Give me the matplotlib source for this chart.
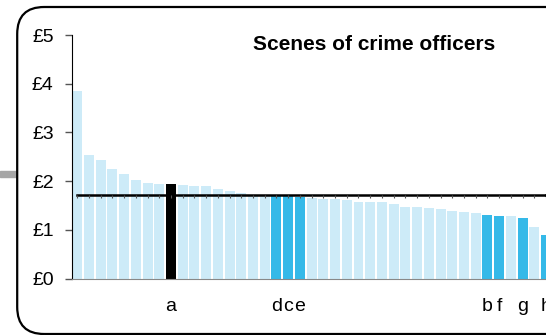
import matplotlib.pyplot as plt
from matplotlib.patches import FancyBboxPatch, Rectangle

plt.rcParams['font.family'] = ['Liberation Sans', 'DejaVu Sans']

# cost per head, forces sorted high to low (chart is cropped on the right)
costs = [3.86, 2.54, 2.43, 2.25, 2.15, 2.02, 1.96, 1.94, 1.94, 1.92,
         1.90, 1.90, 1.84, 1.80, 1.76, 1.72, 1.71, 1.70, 1.70, 1.68,
         1.65, 1.63, 1.63, 1.61, 1.57, 1.57, 1.57, 1.53, 1.47, 1.47,
         1.45, 1.43, 1.39, 1.37, 1.35, 1.30, 1.28, 1.28, 1.24, 1.06,
         0.89]
labels = [''] * len(costs)
labels[8] = 'a'
labels[17] = 'd'
labels[18] = 'c'
labels[19] = 'e'
labels[35] = 'b'
labels[36] = 'f'
labels[38] = 'g'
labels[40] = 'h'
own_force = 'a'
average = 1.71

light = '#cdebf8'
mid = '#35b9e8'
colors = []
for lab in labels:
    if lab == own_force:
        colors.append('black')
    elif lab:
        colors.append(mid)
    else:
        colors.append(light)

fig = plt.figure(figsize=(5.46, 3.35), dpi=100)

# rounded frame (in inches) and grey connector bar on the left
fig.patches.append(Rectangle((0, 1 - 176.5 / 335), 16 / 546, 6 / 335,
                             transform=fig.transFigure, color='#a6a6a6'))
fig.patches.append(FancyBboxPatch((0.172, 0.01), 6.0, 3.27,
                                  boxstyle='round,pad=0,rounding_size=0.27',
                                  transform=fig.dpi_scale_trans, fill=False,
                                  lw=1.6, ec='black'))

ax = fig.add_axes([71.7 / 546, 56.5 / 335, 1 - 71.7 / 546, 243.5 / 335])
x = range(len(costs))
ax.bar(x, costs, width=0.85, color=colors, zorder=2)
ax.plot(x, [average] * len(costs), color='black', lw=1.8, zorder=3)
ax.plot(x, [average] * len(costs), ls='none', marker=3, ms=2, mew=0.8,
        color='#555555', zorder=3)
ax.plot([len(costs) - 1, len(costs) + 5], [average, average], color='black', lw=1.8, zorder=3)

ax.set_xlim(-0.47, 39.65)
ax.set_ylim(0, 5)
ax.set_yticks(range(6))
ax.set_yticklabels(['£' + str(v) for v in range(6)], fontsize=14)
ax.set_xticks(list(x))
ax.set_xticklabels(labels, fontsize=14)
ax.tick_params(axis='x', length=0, pad=14)
ax.tick_params(axis='y', length=5, width=1, color='#555555', pad=8)
ax.spines['top'].set_visible(False)
ax.spines['right'].set_visible(False)
ax.spines['bottom'].set_color('#888888')
ax.spines['left'].set_color('black')
ax.set_facecolor('none')

fig.text(373.7 / 546, 1 - 44 / 335, 'Scenes of crime officers', fontsize=15,
         fontweight='bold', ha='center', va='center')

fig.savefig('out.png', dpi=100)
